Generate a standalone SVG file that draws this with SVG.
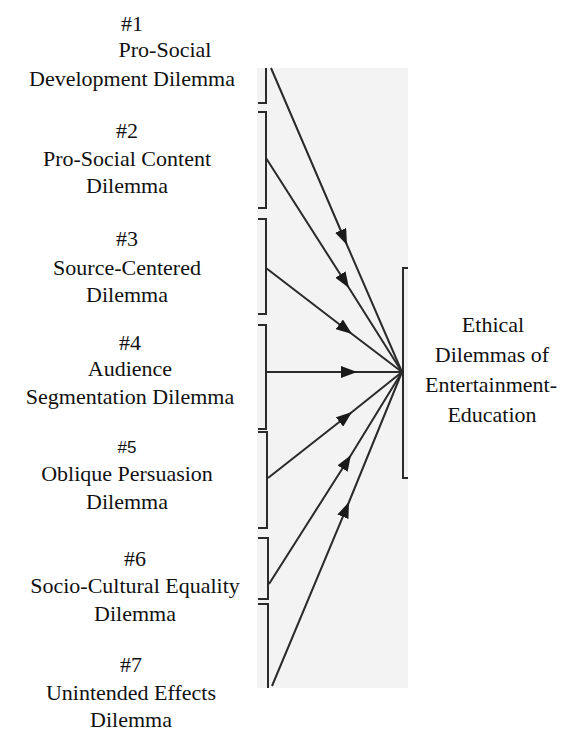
<svg xmlns="http://www.w3.org/2000/svg" width="566" height="732" viewBox="0 0 566 732">
  <style>
    .lbl { font-family: "Liberation Serif", serif; font-size: 22px; fill: #111; text-anchor: middle; }
    .num5 { font-family: "Liberation Sans", Arial, sans-serif; font-size: 17px; fill: #111; text-anchor: middle; }
    .brk { fill: none; stroke: #2a2a2a; stroke-width: 2; }
    .arr { fill: none; stroke: #2a2a2a; stroke-width: 2; marker-mid: url(#head); }
  </style>
  <defs>
    <marker id="head" viewBox="0 0 16 12" refX="16" refY="6" markerWidth="16" markerHeight="12" markerUnits="userSpaceOnUse" orient="auto">
      <path d="M0,0 L16,6 L0,12 Z" fill="#1a1a1a"/>
    </marker>
  </defs>

  <rect width="566" height="732" fill="#ffffff"/>
  <!-- scanned panel behind the brackets and arrows -->
  <rect x="257" y="68" width="151" height="620" fill="#f3f3f3"/>

  <g id="node1">
    <text class="lbl" x="132" y="31">#1</text>
    <text class="lbl" x="165" y="57">Pro-Social</text>
    <text class="lbl" x="132" y="86">Development Dilemma</text>
    <path class="brk" d="M266,68 V103 H258"/>
  </g>
  <g id="node2">
    <text class="lbl" x="127" y="138">#2</text>
    <text class="lbl" x="127" y="166">Pro-Social Content</text>
    <text class="lbl" x="127" y="193">Dilemma</text>
    <path class="brk" d="M258,112 H266 V208 H258"/>
  </g>
  <g id="node3">
    <text class="lbl" x="127" y="246">#3</text>
    <text class="lbl" x="127" y="275">Source-Centered</text>
    <text class="lbl" x="127" y="302">Dilemma</text>
    <path class="brk" d="M258,219 H266 V314 H258"/>
  </g>
  <g id="node4">
    <text class="lbl" x="130" y="350">#4</text>
    <text class="lbl" x="130" y="376">Audience</text>
    <text class="lbl" x="130" y="404">Segmentation Dilemma</text>
    <path class="brk" d="M258,325 H266 V429 H258"/>
  </g>
  <g id="node5">
    <text class="num5" x="127" y="453">#5</text>
    <text class="lbl" x="127" y="481">Oblique Persuasion</text>
    <text class="lbl" x="127" y="509">Dilemma</text>
    <path class="brk" d="M258,432 H267 V528 H258"/>
  </g>
  <g id="node6">
    <text class="lbl" x="135" y="566">#6</text>
    <text class="lbl" x="135" y="593">Socio-Cultural Equality</text>
    <text class="lbl" x="135" y="621">Dilemma</text>
    <path class="brk" d="M258,538 H268 V599 H258"/>
  </g>
  <g id="node7">
    <text class="lbl" x="131" y="672">#7</text>
    <text class="lbl" x="131" y="700">Unintended Effects</text>
    <text class="lbl" x="131" y="727">Dilemma</text>
    <path class="brk" d="M258,604 H268 V688"/>
  </g>

  <g id="target">
    <path class="brk" d="M408,268 H403 V478 H408"/>
    <text class="lbl" x="493" y="332">Ethical</text>
    <text class="lbl" x="492" y="362">Dilemmas of</text>
    <text class="lbl" x="491" y="392">Entertainment-</text>
    <text class="lbl" x="492" y="422">Education</text>
  </g>

  <g id="connectors">
    <path class="arr" d="M271,68 L347,245 L402,372"/>
    <path class="arr" d="M266,158 L349,288 L402,372"/>
    <path class="arr" d="M266,268 L352,334 L402,372"/>
    <path class="arr" d="M266,372 L357,372 L402,372"/>
    <path class="arr" d="M268,478 L352,412 L402,372"/>
    <path class="arr" d="M269,584 L351,455 L402,372"/>
    <path class="arr" d="M272,686 L349,502 L402,372"/>
  </g>
</svg>
